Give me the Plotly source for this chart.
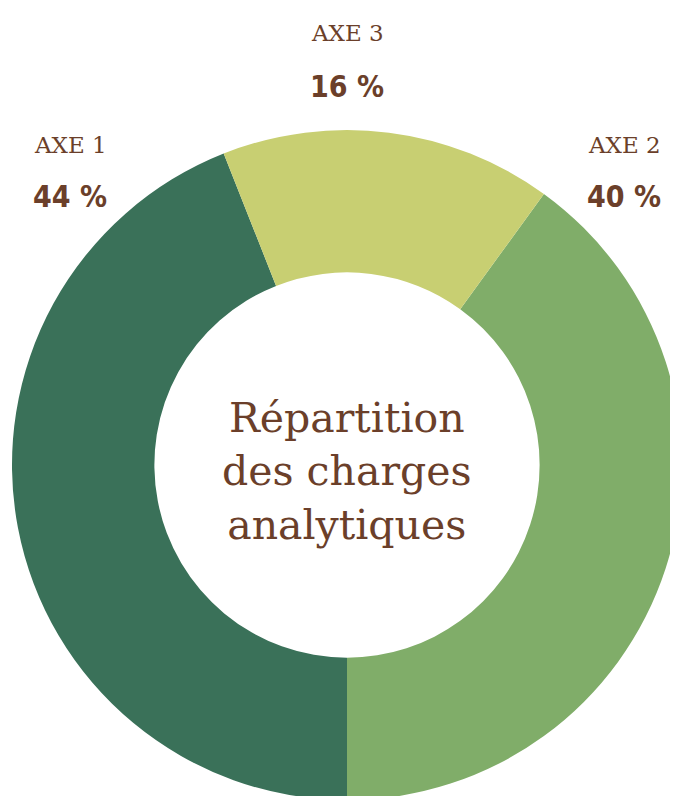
import plotly.graph_objects as go

labels = ["AXE 2", "AXE 1", "AXE 3"]
values = [40, 44, 16]
colors = ["#80ad69", "#3a7159", "#c8cf72"]
brown = "#6b3f2a"

W, H = 680, 800
OFF = 8  # page body margin

fig = go.Figure()
fig.add_trace(go.Pie(
    labels=labels, values=values, hole=0.575, sort=False,
    direction="clockwise", rotation=36,
    marker=dict(colors=colors, line=dict(width=0)),
    textinfo="none", hoverinfo="label+percent",
    domain=dict(x=[(12-OFF)/W, (682-OFF)/W], y=[1-(800-OFF)/H, 1-(130-OFF)/H]),
    showlegend=False,
))

serif = "DejaVu Serif, Liberation Serif, serif"
narrow = "DejaVu Sans Condensed, Liberation Sans Narrow, sans-serif"

pos = {"AXE 3": (347, 33, 86), "AXE 1": (70, 145, 197), "AXE 2": (624, 145, 197)}
for lab, val in zip(labels, values):
    x, y1, y2 = pos[lab]
    fig.add_annotation(x=(x-OFF)/W, y=1-(y1-OFF)/H, xref="paper", yref="paper",
                       text=lab, showarrow=False, xanchor="center", yanchor="middle",
                       font=dict(family=serif, size=23, color=brown))
    fig.add_annotation(x=(x-OFF)/W, y=1-(y2-OFF)/H, xref="paper", yref="paper",
                       text=f"<b>{val} %</b>", showarrow=False, xanchor="center", yanchor="middle",
                       font=dict(family=narrow, size=30, color=brown))

fig.add_annotation(x=(347-OFF)/W, y=1-(472-OFF)/H, xref="paper", yref="paper",
                   text="Répartition<br>des charges<br>analytiques", showarrow=False,
                   xanchor="center", yanchor="middle",
                   font=dict(family=serif, size=41, color=brown))

fig.update_layout(width=W, height=H, margin=dict(l=0, r=0, t=0, b=0),
                  paper_bgcolor="white", plot_bgcolor="white")
fig.write_html("out.html")
